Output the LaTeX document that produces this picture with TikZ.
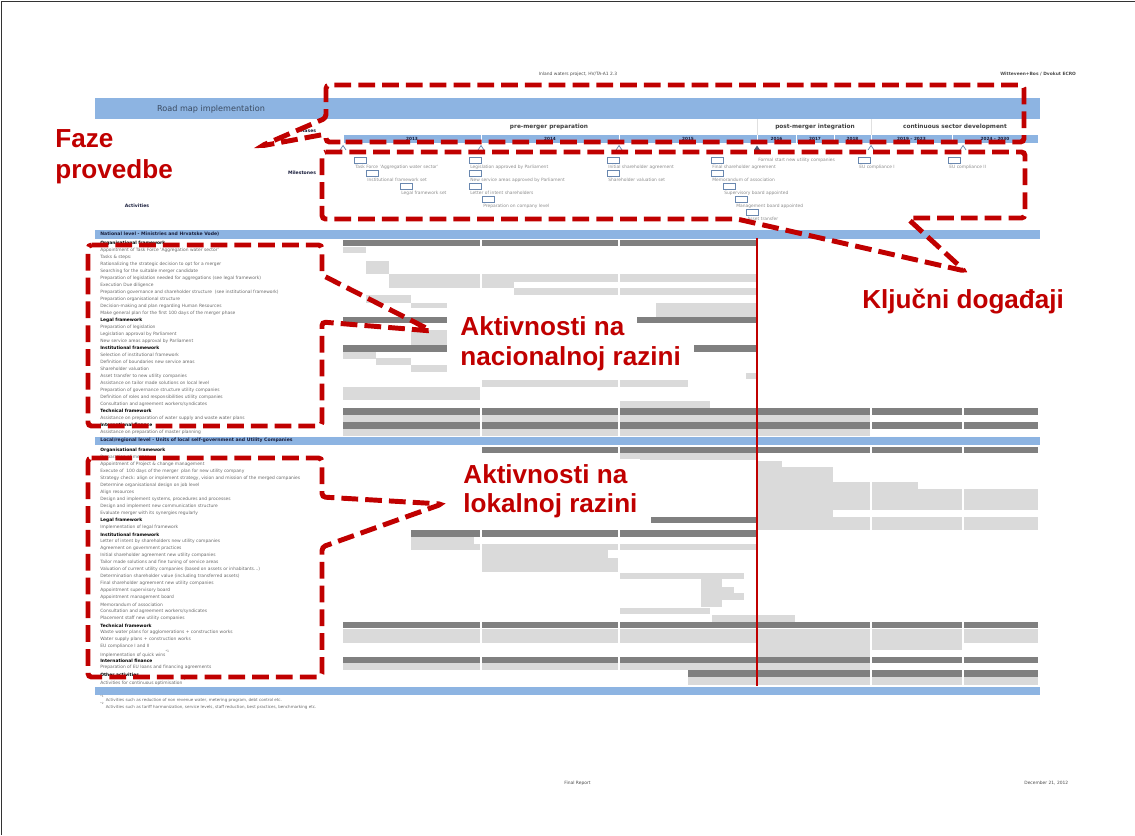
\documentclass[tikz,border=0pt]{standalone}
\usepackage{fontspec}
\setmainfont{DejaVu Sans}
\newfontfamily\arialfont{Liberation Sans}
\definecolor{rmblue}{RGB}{141,180,226}
\definecolor{rmred}{RGB}{192,0,0}
\definecolor{rmdark}{RGB}{128,128,128}
\definecolor{rmlight}{RGB}{218,218,218}
\definecolor{rmgray}{RGB}{105,105,105}
\definecolor{rmnavy}{RGB}{25,30,60}
\definecolor{rmbox}{RGB}{105,135,175}
\newcommand{\rmsz}[1]{\fontsize{#1}{#1}\selectfont}
\newcommand{\hd}{\bfseries\color{black}}
\tikzset{
  rowtxt/.style={anchor=west,inner sep=0pt,font=\rmsz{2.5},text=rmgray},
  mstxt/.style={anchor=west,inner sep=0pt,font=\rmsz{2.5},text=black!45},
  msbx/.style={draw=rmbox,line width=0.4pt,fill=white},
  smallbold/.style={inner sep=0pt,font=\rmsz{2.6}\bfseries,text=rmnavy},
  phasetxt/.style={inner sep=0pt,font=\rmsz{3.3}\bfseries,text=black!75},
  redlbl/.style={anchor=base west,inner sep=0pt,text=rmred,font=\arialfont\bfseries\rmsz{14.8}},
  whitelbl/.style={redlbl,fill=white,inner xsep=7.4pt,inner ysep=3pt},
  callout/.style={draw=rmred,line width=2.8pt,dash pattern=on 9.5pt off 4pt,rounded corners=2pt},
}

\begin{document}
\begin{tikzpicture}[x=0.567pt,y=-0.567pt]
  \useasboundingbox (0,0) rectangle (1135,835);
  \draw[black!80,line width=0.8pt] (1.5,835) -- (1.5,1.5) -- (1135,1.5);

  % page header and footer
  \node[inner sep=0pt,font=\rmsz{2.5},text=black!70] (projname) at (578,74) {Inland waters project, HV/TA-A1 2.3};
  \node[anchor=west,inner sep=0pt,font=\rmsz{2.5}\bfseries,text=black!70] (firm) at (1000,74) {Witteveen+Bos / Dvokut ECRO};
  \node[anchor=west,inner sep=0pt,font=\rmsz{2.5},text=black!70] (final) at (564,783) {Final Report};
  \node[anchor=west,inner sep=0pt,font=\rmsz{2.5},text=black!70] (date) at (1024,783) {December 21, 2012};

  % gantt bars
  \foreach \ya/\yb/\xa/\xb in {240/246/343/757,317/323/343/757,345/352/343/757,408/415/343/1038,
      422/429/343/1038,447/453/481/1038,517/523/619/757,530/537/411/757,622/628/343/1038,
      657/663/343/1038,670/677/688/1038}
    \fill[rmdark] (\xa,\ya) rectangle (\xb,\yb);
  \foreach \ya/\yb/\xa/\xb in {247/253/343/366,261/274/366/389,274/288/389/481,274/282/481/757,
      282/288/481/514,288/295/514/757,295/303/366/411,303/308/411/447,303/317/656/757,
      330/345/411/447,352/359/343/376,358/365/376/411,365/372/411/447,373/379/746/757,
      380/387/481/688,387/400/343/481,401/408/619/710,415/422/343/871,429/436/343/871,
      453/460/619/757,461/467/757/782,467/482/757/833,482/489/757/918,489/510/757/1038,
      510/517/757/833,517/530/757/1038,537/544/411/474,544/550/411/757,550/558/481/608,
      558/572/481/619,573/579/619/744,579/587/701/722,587/593/701/734,593/600/701/744,
      600/607/701/722,608/614/619/710,615/622/712/795,629/643/343/1038,643/657/757/871,
      643/650/871/963,663/670/343/871,677/685/688/1038}
    \fill[rmlight] (\xa,\ya) rectangle (\xb,\yb);
  \foreach \x in {481,619,871,963}
    \draw[white,line width=0.6pt] (\x,238) -- (\x,686);

  % bands
  \fill[rmblue] (95,98) rectangle (1040,119);
  \fill[rmblue] (95,230) rectangle (1040,238.5);
  \fill[rmblue] (95,436.5) rectangle (1040,445);
  \fill[rmblue] (95,686.5) rectangle (1040,695);
  \draw[rmred,line width=0.6pt] (757,238) -- (757,686);
  \node[inner sep=0pt,font=\rmsz{4.6},text=black!45!rmbox] (roadmap) at (211,109) {Road map implementation};
  \node[smallbold,anchor=west] (natband) at (100,234.3) {National level - Ministries and Hrvatske Vode)};
  \node[smallbold,anchor=west] (locband) at (100,440.7) {Local/regional level - Units of local self-government and Utility Companies};

  % phases and years
  \draw[black!12] (757,119) -- (757,135) (871,119) -- (871,135);
  \node[phasetxt] (pre) at (549,127) {pre-merger preparation};
  \node[phasetxt] (post) at (815,127) {post-merger integration};
  \node[phasetxt] (cont) at (955,127) {continuous sector development};
  \node[smallbold] (phases) at (307,131) {Phases};
  \foreach \xa/\xb/\yr in {343/481/2013,481/619/2014,619/757/2015,757/796/2016,796/834/2017,
      834/871/2018,871/952/2019 -- 2023,952/1038/2024 -- 2030}{
    \fill[rmblue] (\xa+0.5,135) rectangle (\xb-0.5,143);
    \node[smallbold,font=\rmsz{2.4}\bfseries] (yr\xa) at ({(\xa+\xb)/2},139) {\yr};
  }
  \foreach \x in {343,481,619,871,963}
    \draw[rmbox,line width=0.4pt] (\x-3,150) -- (\x,145.5) -- (\x+3,150);
  \fill[rmbox!70!black] (754,150) -- (757,145.5) -- (760,150) -- cycle;

  % milestones
  \node[smallbold] (mslbl) at (302,173) {Milestones};
  \node[smallbold] (actlbl) at (137,206) {Activities};
  \foreach \mx/\my/\mt [count=\i] in {354/167/Task Force 'Aggregation water sector',
      366/180/Institutional framework set,400/193/Legal framework set,
      469/167/Legislation approved by Parliament,469/180/New service areas approved by Parliament,
      469/193/Letter of intent shareholders,482/206/Preparation on company level,
      607/167/Initial shareholder agreement,607/180/Shareholder valuation set,
      711/167/Final shareholder agreement,711/180/Memorandum of association,
      723/193/Supervisory board appointed,735/206/Management board appointed,
      746/219/Asset transfer,858/167/EU compliance I,948/167/EU compliance II}{
    \draw[msbx] (\mx,\my-10) rectangle ++(12,6);
    \node[mstxt] (ms\i) at (\mx+1,\my) {\mt};
  }
  \node[mstxt] (formal) at (758,160) {Formal start new utility companies};

  % activities
  \foreach \t [count=\i from 0] in {\hd Organisational framework,
      Appointment of Task Force 'Aggregation water sector',Tasks \& steps:,
      Rationalizing the strategic decision to opt for a merger,
      Searching for the suitable merger candidate,
      Preparation of legislation needed for aggregations (see legal framework),
      Execution Due diligence,
      Preparation governance and shareholder structure \ (see institutional framework),
      Preparation organisational structure,
      Decision-making and plan regarding Human Resources,
      Make general plan for the first 100 days of the merger phase,
      \hd Legal framework,Preparation of legislation,Legislation approval by Parliament,
      New service areas approval by Parliament,\hd Institutional framework,
      Selection of institutional framework,Definition of boundaries new service areas,
      Shareholder valuation,Asset transfer to new utility companies,
      Assistance on tailor made solutions on local level,
      Preparation of governance structure utility companies,
      Definition of roles and responsibilities utility companies,
      Consultation and agreement workers/syndicates,\hd Technical framework,
      Assistance on preparation of water supply and waste water plans,
      \hd International finance,Assistance on preparation of master planning}
    \node[rowtxt] (nat\i) at (100,243.3+7*\i) {\t};
  \foreach \t [count=\i from 0] in {\hd Organisational framework,Preparation of merger,
      Appointment of Project \& change management,
      Execute of \ 100 days of the merger \ plan for new utility company,
      {Strategy check: align or implement strategy, vision and mission of the merged companies},
      Determine organisational design on job level,Align resources,
      {Design and implement systems, procedures and processes},
      Design and implement new communication structure,
      Evaluate merger with its synergies regularly,
      \hd Legal framework,Implementation of legal framework,\hd Institutional framework,
      Letter of intent by shareholders new utility companies,
      Agreement on government practices,
      Initial shareholder agreement new utility companies,
      Tailor made solutions and fine tuning of service areas,
      Valuation of current utility companies (based on assets or inhabitants\dots),
      Determination shareholder value (including transferred assets),
      Final shareholder agreement new utility companies,
      Appointment supervisory board,Appointment management board,
      Memorandum of association,Consultation and agreement workers/syndicates,
      Placement staff new utility companies,\hd Technical framework,
      Waste water plans for agglomerations + construction works,
      Water supply plans + construction works,EU compliance I and II,
      Implementation of quick wins\textsuperscript{*1},\hd International finance,
      Preparation of EU loans and financing agreements,\hd Other activities,
      Activities for continuous optimisation\textsuperscript{*2}}
    \node[rowtxt] (loc\i) at (100,450.7+7*\i) {\t};
  \node[rowtxt,font=\rmsz{2.3}] (fn1) at (100,699) {\textsuperscript{*1} Activities such as reduction of non revenue water, metering program, debt control etc.};
  \node[rowtxt,font=\rmsz{2.3}] (fn2) at (100,706) {\textsuperscript{*2} Activities such as tariff harmonization, service levels, staff reduction, best practices, benchmarking etc.};

  % red annotations
  \node[redlbl] (faze1) at (55,147) {Faze};
  \node[redlbl] (faze2) at (55,178) {provedbe};
  \node[redlbl] (kljuc) at (862,308) {Ključni događaji};
  \node[whitelbl] (nat1) at (447,335) {Aktivnosti na};
  \node[whitelbl] (nat2) at (447,365) {nacionalnoj razini};
  \node[whitelbl] (lok1) at (450,483) {Aktivnosti na};
  \node[whitelbl] (lok2) at (450,512) {lokalnoj razini};

  \coordinate (fazetip) at (261,146);
  \coordinate (keytip) at (965,271);
  \coordinate (nattip) at (432,331);
  \coordinate (loctip) at (442,504);
  \draw[callout] (344,142) -- (326,142) -- (326,134) -- (fazetip) -- (326,118) -- (326,85)
    -- (1024,85) -- (1024,142) -- cycle;
  \draw[callout] (322,152) -- (1025,152) -- (1025,218) -- (907,218) -- (keytip) -- (737,219)
    -- (322,219) -- cycle;
  \draw[callout] (88,245) -- (322,245) -- (322,275) -- (nattip) -- (322,322) -- (322,426)
    -- (88,426) -- cycle;
  \draw[callout] (88,458) -- (322,458) -- (322,497) -- (loctip) -- (322,547) -- (322,677)
    -- (88,677) -- cycle;
\end{tikzpicture}
\end{document}
